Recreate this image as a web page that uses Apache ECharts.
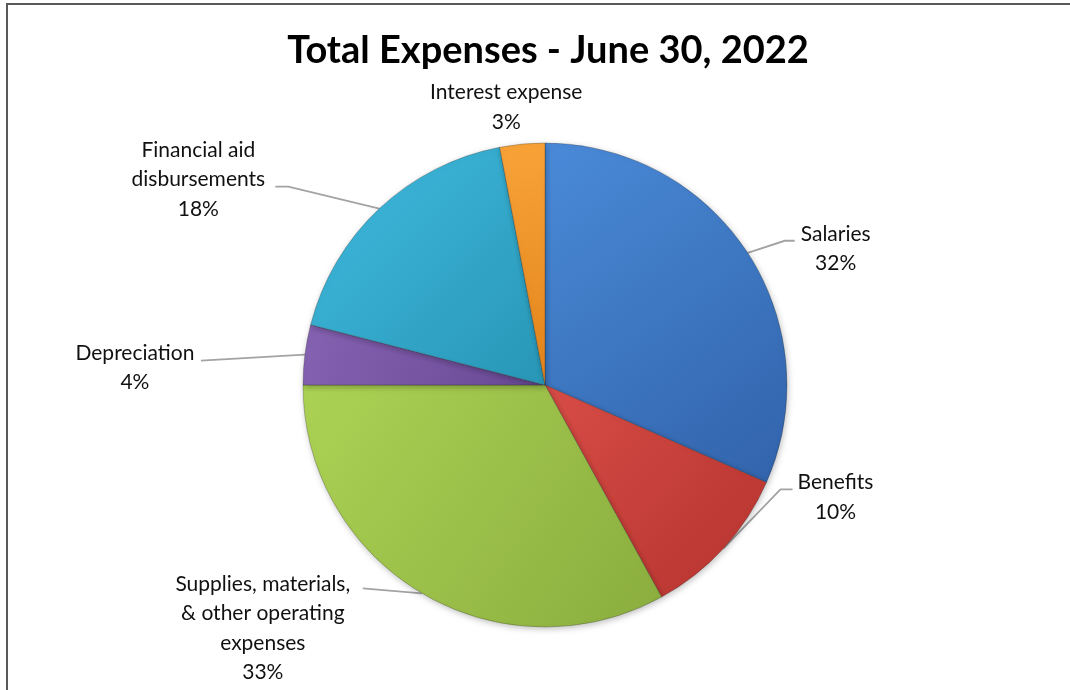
<!DOCTYPE html>
<html>
<head>
<meta charset="utf-8">
<script src="https://cdn.jsdelivr.net/npm/echarts@6/dist/echarts.min.js"></script>
<style>
html,body{margin:0;padding:0;background:#fff;}
#chart{width:1070px;height:690px;}
</style>
</head>
<body>
<div id="chart"></div>
<script>
// ---- data ----
const categories = ['Salaries', 'Benefits', 'Supplies, materials,\n& other operating\nexpenses', 'Depreciation', 'Financial aid\ndisbursements', 'Interest expense'];
const values = [31.6, 10.4, 33.0, 4.0, 18.0, 3.0];
const titleText = 'Total Expenses - June 30, 2022';

// ---- styles ----
const colorsLight = ['#4a8ad8', '#d84c46', '#acd254', '#8662b2', '#40bbdf', '#f8a338'];
const colorsDark  = ['#3163aa', '#b5332e', '#8aad3e', '#674893', '#2896b6', '#e2841a'];
// label layout offsets relative to slice edge point: [elbow, end, labelCenter]
const labelOffsets = [
  [[37, -12], [47, -12], [88, -4]],
  [[57, -59], [69, -59], [112, -51]],
  [[-59, -5], [-59, -5], [-159, 35]],
  [[-104, 6], [-104, 6], [-170, 13]],
  [[-91, -22], [-104, -22], [-181, -29]],
  [[0, 0], [0, 0], [-16, -37]]
];

const chart = echarts.init(document.getElementById('chart'));
const seriesData = categories.map((name, i) => ({
  name: name,
  value: values[i],
  itemStyle: {
    color: {
      type: 'linear', x: 0, y: 0, x2: 1, y2: 1,
      colorStops: [{offset: 0, color: colorsLight[i]}, {offset: 1, color: colorsDark[i]}]
    }
  },
  labelLine: { show: i !== 5 }
}));

chart.setOption({
  animation: false,
  title: {
    text: titleText,
    left: 543, top: 27, textAlign: 'center',
    textStyle: { fontFamily: 'Lato', fontWeight: 'bold', fontSize: 38, color: '#000' }
  },
  graphic: [{
    type: 'rect', shape: { x: 7, y: 4, width: 1120, height: 740 },
    style: { fill: 'none', stroke: '#595959', lineWidth: 2 }, silent: true, z: -1
  }],
  series: [{
    type: 'pie',
    center: [545, 385],
    radius: [0, 242],
    startAngle: 90,
    clockwise: true,
    avoidLabelOverlap: false,
    data: seriesData,
    itemStyle: {
      borderColor: 'rgba(40,40,40,0.35)',
      borderWidth: 0.8,
      shadowBlur: 6,
      shadowColor: 'rgba(0,0,0,0.25)',
      shadowOffsetX: 1,
      shadowOffsetY: 2
    },
    label: {
      show: true,
      position: 'outside',
      formatter: function (p) {
        return p.name.split('\n').map(s => '{t|' + s + '}').join('\n') + '\n{t|' + Math.round(p.percent) + '%}';
      },
      rich: {
        t: { fontFamily: 'Lato', fontSize: 21, color: '#111', align: 'center', lineHeight: 29.5 }
      }
    },
    labelLine: {
      show: true,
      lineStyle: { color: '#a3a3a3', width: 1.8 },
      smooth: false
    },
    labelLayout: function (params) {
      const i = params.dataIndex;
      const o = labelOffsets[i];
      const pts = params.labelLinePoints;
      let p0 = pts ? pts[0] : null;
      if (!p0) {
        p0 = [params.labelRect.x + params.labelRect.width / 2, params.labelRect.y + params.labelRect.height];
      }
      const res = {
        x: p0[0] + o[2][0],
        y: p0[1] + o[2][1],
        align: 'center',
        verticalAlign: 'middle'
      };
      if (pts) {
        res.labelLinePoints = [p0, [p0[0] + o[0][0], p0[1] + o[0][1]], [p0[0] + o[1][0], p0[1] + o[1][1]]];
      }
      return res;
    }
  }]
});
</script>
</body>
</html>
